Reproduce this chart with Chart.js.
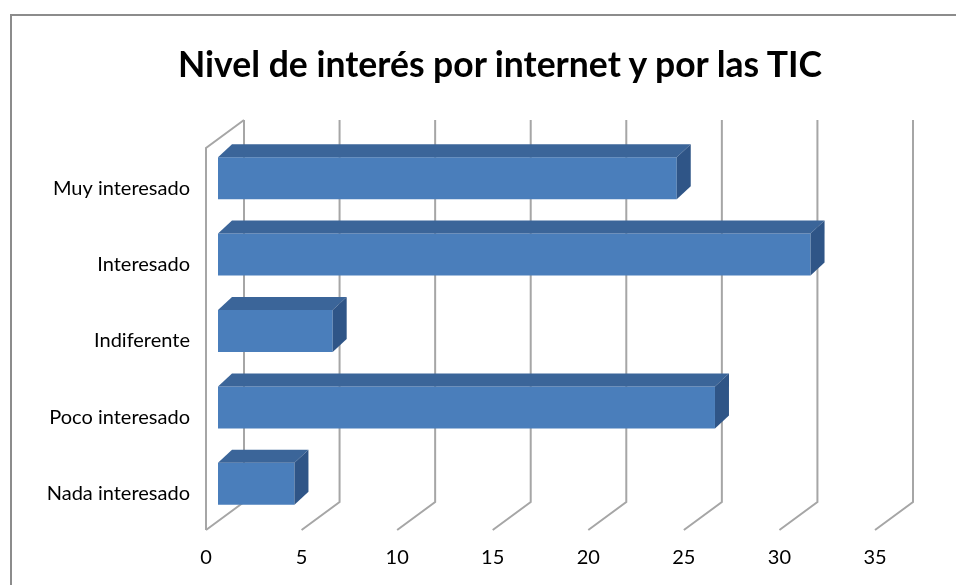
<!DOCTYPE html>
<html>
<head>
<meta charset="utf-8">
<script src="https://cdn.jsdelivr.net/npm/chart.js@4"></script>
<style>
  html, body { margin: 0; padding: 0; background: #ffffff; overflow: hidden; }
  #marco { position: absolute; left: 10px; top: 14px; width: 1000px; height: 1000px; border: 2px solid #8c8c8c; }
  #lienzo { position: absolute; left: 0; top: 0; }
  #titulo { position: absolute; left: 0; width: 1000px; top: 42px; margin: 0; text-align: center;
            font: bold 35.5px Lato, "Open Sans", sans-serif; line-height: 44px; color: #000; }
</style>
</head>
<body>
<div id="marco"></div>
<canvas id="lienzo" width="956" height="585"></canvas>
<h1 id="titulo"></h1>
<script>
const categorias = ["Muy interesado", "Interesado", "Indiferente", "Poco interesado", "Nada interesado"];
const valores = [24, 31, 6, 26, 4];
const titulo = "Nivel de interés por internet y por las TIC";
const ejeMin = 0;
const ejeMax = 35;
const paso = 5;

document.getElementById("titulo").textContent = titulo;

// profundidad del "3D" (suelo y pared) y de las barras
const FONDO_X = 38, FONDO_Y = -28;
const FRENTE_X = -12, FRENTE_Y = 8;
const BARRA_X = 14, BARRA_Y = -13;

const paredes3d = {
    id: "paredes3d",
    beforeDatasetsDraw(chart) {
        const ctx = chart.ctx;
        const area = chart.chartArea;
        const x = chart.scales.x;
        const yArriba = area.top + FRENTE_Y + FONDO_Y;
        const yFondo = area.bottom + FRENTE_Y + FONDO_Y;
        const yFrente = area.bottom + FRENTE_Y;
        ctx.save();
        ctx.strokeStyle = "#a6a6a6";
        ctx.lineWidth = 2;
        for (let v = ejeMin; v <= ejeMax; v += paso) {
            const xf = x.getPixelForValue(v) + FRENTE_X;
            const xb = xf + FONDO_X;
            ctx.beginPath();
            ctx.moveTo(xb, yArriba);
            ctx.lineTo(xb, yFondo);
            ctx.lineTo(xf, yFrente);
            ctx.stroke();
        }
        // pared izquierda
        const x0 = x.getPixelForValue(ejeMin) + FRENTE_X;
        ctx.beginPath();
        ctx.moveTo(x0, yFrente);
        ctx.lineTo(x0, area.top + FRENTE_Y);
        ctx.lineTo(x0 + FONDO_X, yArriba);
        ctx.stroke();
        ctx.restore();
    },
    afterDatasetsDraw(chart) {
        const ctx = chart.ctx;
        chart.getDatasetMeta(0).data.forEach(b => {
            const arriba = b.y - b.height / 2;
            const abajo = b.y + b.height / 2;
            ctx.save();
            ctx.fillStyle = "#3b6599";
            ctx.beginPath();
            ctx.moveTo(b.base, arriba);
            ctx.lineTo(b.x, arriba);
            ctx.lineTo(b.x + BARRA_X, arriba + BARRA_Y);
            ctx.lineTo(b.base + BARRA_X, arriba + BARRA_Y);
            ctx.closePath();
            ctx.fill();
            ctx.fillStyle = "#2f5587";
            ctx.beginPath();
            ctx.moveTo(b.x, arriba);
            ctx.lineTo(b.x + BARRA_X, arriba + BARRA_Y);
            ctx.lineTo(b.x + BARRA_X, abajo + BARRA_Y);
            ctx.lineTo(b.x, abajo);
            ctx.closePath();
            ctx.fill();
            ctx.restore();
        });
    }
};

Chart.defaults.font.family = "Lato, 'Open Sans', sans-serif";
Chart.defaults.color = "#000000";

const ctx = document.getElementById("lienzo").getContext("2d");
new Chart(ctx, {
    type: "bar",
    data: {
        labels: categorias,
        datasets: [{
            data: valores,
            backgroundColor: "#4a7ebb",
            borderWidth: 0,
            categoryPercentage: 1,
            barPercentage: 0.55
        }]
    },
    options: {
        indexAxis: "y",
        responsive: false,
        animation: false,
        layout: { padding: { left: 10, right: 69, top: 140, bottom: 13 } },
        plugins: {
            legend: { display: false },
            tooltip: { enabled: false },
            title: { display: false }
        },
        scales: {
            x: {
                min: ejeMin,
                max: ejeMax,
                grid: { display: false, drawTicks: false },
                border: { display: false },
                ticks: { stepSize: paso, padding: 24, labelOffset: FRENTE_X, font: { size: 20 } },
                afterFit(s) { s.height = 50; }
            },
            y: {
                grid: { display: false, drawTicks: false },
                border: { display: false },
                ticks: { padding: 28, labelOffset: 10, font: { size: 20 } },
                afterFit(s) { s.width = 208; }
            }
        }
    },
    plugins: [paredes3d]
});
</script>
</body>
</html>
